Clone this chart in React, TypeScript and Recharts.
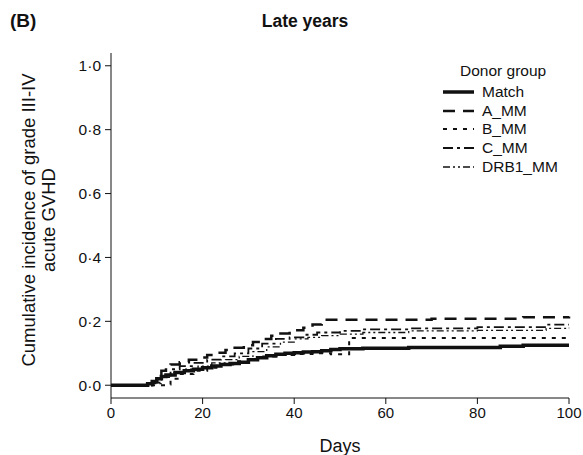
import React from 'react';
import { LineChart, Line, XAxis, YAxis } from 'recharts';

const xTicks = [0, 20, 40, 60, 80, 100];
const yTicks = [0, 0.2, 0.4, 0.6, 0.8, 1.0];

const matchDays = [0, 8, 9, 10, 11, 12, 14, 16, 18, 20, 22, 24, 26, 28, 30, 32, 34, 36, 38, 40, 42, 44, 46, 48, 50, 55, 65, 85, 90, 100];
const matchVals = [0, 0.005, 0.012, 0.02, 0.027, 0.032, 0.04, 0.045, 0.05, 0.055, 0.06, 0.065, 0.068, 0.072, 0.08, 0.086, 0.092, 0.097, 0.1, 0.102, 0.104, 0.105, 0.108, 0.112, 0.114, 0.116, 0.118, 0.122, 0.125, 0.125];

const aDays = [0, 9, 10, 11, 12, 13, 15, 17, 19, 21, 23, 25, 27, 29, 31, 33, 35, 37, 39, 42, 44, 46, 70, 90, 100];
const aVals = [0, 0.01, 0.03, 0.045, 0.055, 0.065, 0.072, 0.08, 0.087, 0.095, 0.102, 0.11, 0.117, 0.125, 0.135, 0.145, 0.155, 0.162, 0.172, 0.18, 0.19, 0.205, 0.208, 0.213, 0.215];

const bDays = [0, 12, 13, 15, 18, 21, 24, 27, 30, 33, 36, 40, 44, 48, 52, 100];
const bVals = [0, 0.002, 0.02, 0.035, 0.045, 0.055, 0.065, 0.075, 0.082, 0.09, 0.095, 0.098, 0.1, 0.097, 0.148, 0.148];

const cDays = [0, 9, 11, 13, 15, 18, 21, 24, 27, 30, 33, 36, 39, 42, 45, 50, 55, 65, 80, 95, 100];
const cVals = [0, 0.008, 0.03, 0.05, 0.06, 0.07, 0.08, 0.09, 0.1, 0.115, 0.13, 0.145, 0.15, 0.158, 0.165, 0.17, 0.175, 0.178, 0.182, 0.19, 0.19];

const dDays = [0, 9, 11, 13, 16, 19, 22, 25, 28, 31, 34, 37, 40, 43, 46, 50, 55, 65, 80, 95, 100];
const dVals = [0, 0.005, 0.025, 0.04, 0.05, 0.06, 0.07, 0.08, 0.09, 0.105, 0.12, 0.135, 0.145, 0.15, 0.155, 0.16, 0.165, 0.17, 0.172, 0.178, 0.18];

const toRows = (days: number[], vals: number[]) => days.map((d, i) => ({ day: d, v: vals[i] }));

const series = [
  { name: 'Match', data: toRows(matchDays, matchVals), width: 3.5, dash: undefined as string | undefined },
  { name: 'A_MM', data: toRows(aDays, aVals), width: 2.5, dash: '12 8' },
  { name: 'B_MM', data: toRows(bDays, bVals), width: 2, dash: '4 6' },
  { name: 'C_MM', data: toRows(cDays, cVals), width: 1.8, dash: '10 4 3 4' },
  { name: 'DRB1_MM', data: toRows(dDays, dVals), width: 1.3, dash: '7 3 2 3 2 3' },
];

const FONT = 'Liberation Sans, Arial, sans-serif';
const fmt = (v: number) => v.toFixed(1).replace('.', '·');

const LegendBox = () => (
  <div style={{ position: 'absolute', left: 443, top: 61, fontFamily: FONT, fontSize: 15.5, color: '#111' }}>
    <div style={{ marginLeft: 17, height: 20, lineHeight: '20px' }}>Donor group</div>
    <div style={{ height: 2 }} />
    {series.map((s) => (
      <div key={s.name} style={{ display: 'flex', alignItems: 'center', height: 18.6 }}>
        <svg width={39} height={10}>
          <line x1={0} y1={5} x2={31} y2={5} stroke="#111" strokeWidth={s.width} strokeDasharray={s.dash} />
        </svg>
        <span style={{ lineHeight: '18px' }}>{s.name}</span>
      </div>
    ))}
  </div>
);

const YLabel = () => {
  const cy = 220;
  return (
    <text transform={`rotate(-90, 37, ${cy})`} x={37} y={cy} textAnchor="middle" fontFamily={FONT} fontSize={18.5} fill="#111">
      <tspan x={37} dy={-2}>Cumulative incidence of grade III-IV</tspan>
      <tspan x={37} dy={20}>acute GVHD</tspan>
    </text>
  );
};

export default function App() {
  return (
    <div style={{ position: 'absolute', left: 0, top: 0, width: 583, height: 455, background: '#fff' }}>
      <div style={{ position: 'absolute', left: 10, top: 10, fontFamily: FONT, fontWeight: 'bold', fontSize: 19, color: '#111' }}>(B)</div>
      <div style={{ position: 'absolute', left: 205, width: 200, top: 11, textAlign: 'center', fontFamily: FONT, fontWeight: 'bold', fontSize: 17.5, color: '#111' }}>Late years</div>
      <LineChart width={583} height={455} margin={{ top: 53, right: 14, bottom: 0, left: 51 }}>
        <XAxis
          type="number"
          dataKey="day"
          domain={[0, 100]}
          ticks={xTicks}
          allowDuplicatedCategory={false}
          tickSize={6}
          tickMargin={3}
          height={57}
          stroke="#111"
          tick={{ fill: '#111', fontFamily: FONT, fontSize: 15 }}
          label={{ value: 'Days', position: 'insideBottom', offset: 3, fill: '#111', fontFamily: FONT, fontSize: 18 }}
        />
        <YAxis
          type="number"
          domain={[-0.04, 1.04]}
          ticks={yTicks}
          tickFormatter={fmt}
          width={60}
          tickSize={6}
          tickMargin={4}
          stroke="#111"
          tick={{ fill: '#111', fontFamily: FONT, fontSize: 15.5 }}
          label={<YLabel />}
        />
        {series.map((s) => (
          <Line
            key={s.name}
            data={s.data}
            dataKey="v"
            name={s.name}
            type="stepAfter"
            stroke="#111"
            strokeWidth={s.width}
            strokeDasharray={s.dash}
            dot={false}
            activeDot={false}
            isAnimationActive={false}
          />
        ))}
      </LineChart>
      <LegendBox />
    </div>
  );
}
